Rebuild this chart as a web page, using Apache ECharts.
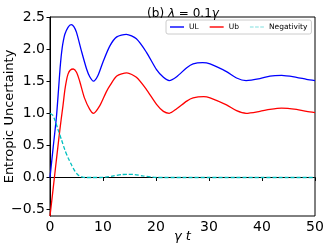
<!DOCTYPE html>
<html>
<head>
<meta charset="utf-8">
<script src="https://cdn.jsdelivr.net/npm/echarts@6/dist/echarts.min.js"></script>
<style>
html,body{margin:0;padding:0;background:#fff;}
#c{width:332px;height:249px;}
</style>
</head>
<body>
<div id="c"></div>
<script>
// ---- data ----
var seriesNames = ['UL', 'Ub', 'Negativity'];
var xTicks = [0, 10, 20, 30, 40, 50];
var yTicks = [-0.5, 0.0, 0.5, 1.0, 1.5, 2.0, 2.5];

var tUL = [0, 0.6, 1.2, 1.6, 1.9, 2.1, 2.3, 2.5, 2.8, 3.4, 4.0, 4.5, 5.0, 5.9, 6.9, 7.5, 8.2, 9.0, 10.0, 11.3, 12.6, 14.4, 16.3, 18.2, 20.1, 21.4, 22.5, 23.9, 25.8, 27.0, 28.8, 30.2, 33.3, 35.2, 37.0, 39.6, 41.5, 43.7, 46.5, 48.4, 50];
var vUL = [0.00, 0.47, 0.93, 1.36, 1.70, 1.88, 2.02, 2.12, 2.23, 2.34, 2.38, 2.35, 2.26, 1.98, 1.69, 1.57, 1.50, 1.58, 1.80, 2.05, 2.19, 2.23, 2.16, 1.95, 1.68, 1.56, 1.51, 1.57, 1.71, 1.77, 1.79, 1.77, 1.65, 1.55, 1.51, 1.54, 1.58, 1.59, 1.56, 1.53, 1.51];

var tUb = [0, 0.6, 1.2, 1.8, 2.1, 2.45, 2.8, 3.1, 3.4, 3.8, 4.4, 5.0, 5.6, 6.5, 7.5, 8.2, 9.4, 10.6, 11.3, 12.6, 14.5, 16.3, 18.2, 20.1, 21.4, 22.5, 23.9, 25.8, 27.0, 29.0, 30.2, 33.3, 35.2, 37.0, 39.6, 41.5, 43.7, 46.5, 48.4, 50];
var vUb = [-0.60, -0.17, 0.27, 0.70, 0.90, 1.12, 1.36, 1.51, 1.61, 1.67, 1.69, 1.64, 1.50, 1.24, 1.06, 1.00, 1.12, 1.33, 1.43, 1.58, 1.63, 1.56, 1.37, 1.14, 1.03, 1.00, 1.07, 1.19, 1.24, 1.26, 1.24, 1.13, 1.04, 1.00, 1.03, 1.06, 1.08, 1.06, 1.03, 1.01];

var tNeg = [0, 0.5, 0.9, 1.5, 2.2, 2.8, 3.45, 4.1, 4.7, 5.3, 6.0, 6.6, 8.0, 9.5, 10.5, 12.0, 13.5, 14.8, 16.0, 17.5, 19.0, 20.0, 25, 30, 35, 40, 45, 50];
var vNeg = [1.00, 0.97, 0.90, 0.75, 0.58, 0.43, 0.30, 0.19, 0.10, 0.04, 0.01, 0.00, 0.00, 0.00, 0.005, 0.025, 0.045, 0.05, 0.045, 0.025, 0.008, 0.00, 0.00, 0.00, 0.00, 0.00, 0.00, 0.00];

function pairs(t, v) { return t.map(function (x, i) { return [x, v[i]]; }); }

var chart = echarts.init(document.getElementById('c'), null, {renderer: 'canvas'});
var font = 'DejaVu Sans';
chart.setOption({
  animation: false,
  backgroundColor: '#fff',
  title: {
    text: '{a|(b) }{i|λ}{a| = 0.1}{i|γ}',
    left: 178, top: 3, textAlign: 'center',
    textStyle: {
      fontWeight: 'normal',
      rich: {
        a: {fontFamily: font, fontSize: 12, fontWeight: 'normal', color: '#000'},
        i: {fontFamily: font, fontSize: 12, fontWeight: 'normal', fontStyle: 'italic', color: '#000'}
      }
    }
  },
  legend: {
    data: [
      {name: seriesNames[0], icon: 'rect'},
      {name: seriesNames[1], icon: 'rect'},
      {name: seriesNames[2], icon: 'path://M0,0H5V1H0Z M7,0H12V1H7Z M14,0H19V1H14Z'}
    ],
    left: 166, top: 20,
    padding: [3, 4, 3, 4],
    itemWidth: 14, itemHeight: 1.4, itemGap: 11,
    backgroundColor: 'rgba(255,255,255,0.8)',
    borderColor: '#cccccc', borderWidth: 1, borderRadius: 2,
    textStyle: {fontFamily: font, fontSize: 7.5, color: '#000'}
  },
  grid: {left: 50, right: 17, top: 17, bottom: 33, show: true, borderColor: '#000', borderWidth: 1,
    containLabel: false, outerBoundsMode: 'none'},
  xAxis: {
    type: 'value', min: 0, max: 50, interval: 10,
    name: '{i|γ t}', nameLocation: 'middle', nameGap: 14, nameMoveOverlap: false,
    nameTextStyle: {rich: {i: {fontFamily: font, fontSize: 13, fontStyle: 'italic', color: '#000'}}},
    axisLine: {lineStyle: {color: '#000', width: 1}},
    axisTick: {show: true, length: 3.5, lineStyle: {color: '#000'}},
    axisLabel: {fontFamily: font, fontSize: 14, color: '#000', margin: 4,
      customValues: xTicks},
    splitLine: {show: false}
  },
  yAxis: {
    type: 'value', min: -0.6, max: 2.5,
    name: 'Entropic Uncertainty', nameLocation: 'middle', nameGap: 34, nameMoveOverlap: false,
    nameTextStyle: {fontFamily: font, fontSize: 13, color: '#000'},
    axisLine: {show: true, lineStyle: {color: '#000', width: 1}},
    axisTick: {show: true, length: 3.5, lineStyle: {color: '#000'}, customValues: yTicks},
    axisLabel: {fontFamily: font, fontSize: 14, color: '#000', margin: 5,
      customValues: yTicks,
      formatter: function (v) { return (v < 0 ? '\u2212' : '') + Math.abs(v).toFixed(1); }},
    splitLine: {show: false}
  },
  series: [
    {name: seriesNames[0], type: 'line', data: pairs(tUL, vUL), symbol: 'none', smooth: 0.25, clip: true,
      lineStyle: {color: '#0000ff', width: 1.3}, itemStyle: {color: '#0000ff'}},
    {name: seriesNames[1], type: 'line', data: pairs(tUb, vUb), symbol: 'none', smooth: 0.25, clip: true,
      lineStyle: {color: '#ff0000', width: 1.3}, itemStyle: {color: '#ff0000'}},
    {name: seriesNames[2], type: 'line', data: pairs(tNeg, vNeg), symbol: 'none', smooth: 0.25, clip: true,
      lineStyle: {color: '#00bfbf', width: 1.3, type: [4, 2]}, itemStyle: {color: '#00bfbf'}}
  ]
});
</script>
</body>
</html>
